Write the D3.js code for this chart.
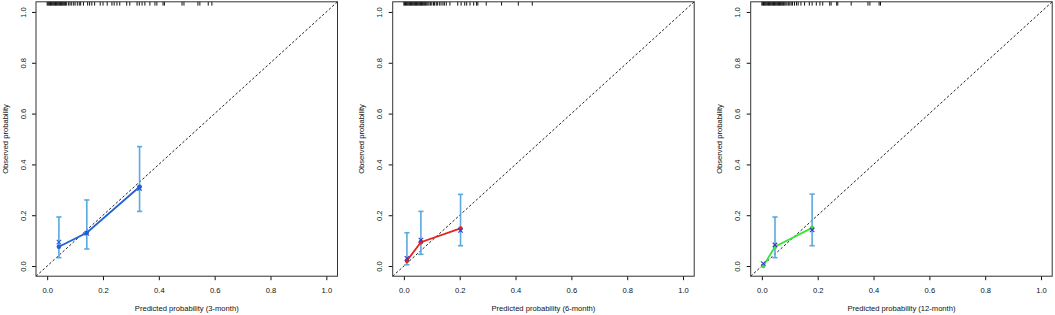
<!DOCTYPE html>
<html>
<head>
<meta charset="utf-8">
<script src="https://cdn.jsdelivr.net/npm/d3@7"></script>
<style>
  body { margin: 0; background: #fff; }
  svg { display: block; font-family: "Liberation Sans", Arial, sans-serif; }
</style>
</head>
<body>
<svg></svg>
<script>
// calibration data, one set of arrays per panel (3, 6, 12 month)
const titles = ["Predicted probability (3-month)", "Predicted probability (6-month)", "Predicted probability (12-month)"];
const lineColors = ["#1f62d6", "#e3241b", "#3ee03a"];

const pred3 = [0.042, 0.142, 0.331];
const obs3 = [0.076, 0.131, 0.312];
const corr3 = [0.094, 0.128, 0.305];
const lo3 = [0.033, 0.067, 0.215];
const hi3 = [0.193, 0.260, 0.470];

const pred6 = [0.011, 0.061, 0.203];
const obs6 = [0.021, 0.094, 0.148];
const corr6 = [0.030, 0.102, 0.140];
const lo6 = [0.005, 0.046, 0.080];
const hi6 = [0.131, 0.215, 0.282];

const pred12 = [0.005, 0.047, 0.180];
const obs12 = [0.000, 0.076, 0.150];
const corr12 = [0.010, 0.083, 0.142];
const lo12 = [null, 0.033, 0.080];
const hi12 = [null, 0.193, 0.283];

// distribution of predicted risks (rug along top)
const rug3 = [0.000, 0.003, 0.006, 0.009, 0.012, 0.015, 0.018, 0.021, 0.024, 0.027, 0.030, 0.033, 0.036, 0.039,
  0.042, 0.045, 0.048, 0.051, 0.054, 0.057, 0.060, 0.063, 0.066, 0.070, 0.077, 0.082, 0.088, 0.095, 0.100,
  0.108, 0.115, 0.120, 0.130, 0.145, 0.152, 0.160, 0.170,
  0.190, 0.200, 0.215, 0.232, 0.240, 0.250, 0.260, 0.285, 0.296, 0.322, 0.330, 0.340, 0.350, 0.368,
  0.386, 0.393, 0.415, 0.420, 0.483, 0.490, 0.540, 0.547, 0.577, 0.590];
const rug6 = [0.000, 0.003, 0.006, 0.009, 0.012, 0.015, 0.018, 0.021, 0.024, 0.027, 0.030, 0.033, 0.036, 0.039,
  0.042, 0.045, 0.048, 0.051, 0.054, 0.057, 0.060, 0.063, 0.066, 0.069, 0.072, 0.075, 0.078, 0.082, 0.086,
  0.090, 0.095, 0.100, 0.106, 0.110, 0.116, 0.120, 0.127, 0.133, 0.140, 0.145,
  0.152, 0.165, 0.193, 0.205, 0.218, 0.225, 0.237, 0.250, 0.260, 0.265, 0.295, 0.350, 0.410, 0.460];
const rug12 = [0.000, 0.003, 0.006, 0.009, 0.012, 0.015, 0.018, 0.021, 0.024, 0.027, 0.030, 0.033, 0.036, 0.039,
  0.042, 0.045, 0.048, 0.051, 0.054, 0.057, 0.060, 0.063, 0.066, 0.069, 0.072, 0.075, 0.078, 0.082, 0.086,
  0.090, 0.095, 0.100, 0.105, 0.110, 0.117, 0.124, 0.130, 0.140, 0.153,
  0.170, 0.180, 0.195, 0.208, 0.218, 0.243, 0.248, 0.268, 0.272, 0.320, 0.380, 0.387, 0.420, 0.425];

const ticks = [0, 0.2, 0.4, 0.6, 0.8, 1.0];
const tickLabels = ["0.0", "0.2", "0.4", "0.6", "0.8", "1.0"];

const panels = [
  { pred: pred3, obs: obs3, corr: corr3, lo: lo3, hi: hi3, rug: rug3 },
  { pred: pred6, obs: obs6, corr: corr6, lo: lo6, hi: hi6, rug: rug6 },
  { pred: pred12, obs: obs12, corr: corr12, lo: lo12, hi: hi12, rug: rug12 }
];

const width = 1055, height = 315;
const lefts = [36, 392.7, 750.7];
const plotW = 301.5, plotTop = 1.8, plotBottom = 276.2;
const textColor = "#111", fs = 7.6;

const svg = d3.select("svg")
    .attr("width", width)
    .attr("height", height)
    .attr("viewBox", [0, 0, width, height]);

panels.forEach((p, k) => {
  const left = lefts[k];
  const x = d3.scaleLinear().domain([-0.04, 1.04]).range([left, left + plotW]);
  const y = d3.scaleLinear().domain([-0.04, 1.04]).range([plotBottom, plotTop]);
  const g = svg.append("g");

  // x axis
  g.append("g")
      .attr("transform", `translate(0,${plotBottom})`)
      .call(d3.axisBottom(x).tickValues(ticks).tickFormat((d, i) => tickLabels[i]).tickSize(4).tickPadding(7))
      .call(a => a.select(".domain").remove())
      .call(a => a.selectAll("line").attr("stroke", textColor))
      .call(a => a.selectAll("text").attr("fill", textColor).attr("font-size", fs).attr("font-family", null));

  // y axis, labels parallel to axis
  g.append("g")
      .attr("transform", `translate(${left},0)`)
      .call(d3.axisLeft(y).tickValues(ticks).tickFormat((d, i) => tickLabels[i]).tickSize(4))
      .call(a => a.select(".domain").remove())
      .call(a => a.selectAll("line").attr("stroke", textColor))
      .call(a => a.selectAll("text")
          .attr("x", null).attr("dy", null)
          .attr("text-anchor", "middle")
          .attr("dominant-baseline", "central")
          .attr("transform", "translate(-13,0) rotate(-90)")
          .attr("fill", textColor).attr("font-size", fs).attr("font-family", null));

  // axis titles
  g.append("text")
      .attr("x", left + plotW / 2).attr("y", 308)
      .attr("text-anchor", "middle").attr("dominant-baseline", "central")
      .attr("font-size", fs).attr("fill", textColor)
      .text(titles[k]);
  g.append("text")
      .attr("transform", `translate(${left - 31},${(plotTop + plotBottom) / 2}) rotate(-90)`)
      .attr("text-anchor", "middle").attr("dominant-baseline", "central")
      .attr("font-size", fs).attr("fill", textColor)
      .text("Observed probability");

  // ideal line
  g.append("line")
      .attr("x1", x(-0.04)).attr("y1", y(-0.04))
      .attr("x2", x(1.04)).attr("y2", y(1.04))
      .attr("stroke", "#222").attr("stroke-width", 1)
      .attr("stroke-dasharray", "2.5,2");

  // rug of predicted risks
  g.selectAll(".rug").data(p.rug).join("line")
      .attr("x1", d => x(d)).attr("x2", d => x(d))
      .attr("y1", plotTop).attr("y2", plotTop + 3.8)
      .attr("stroke", "#111").attr("stroke-width", 1);

  // error bars
  const idx = d3.range(p.pred.length).filter(i => p.lo[i] != null);
  const eb = g.append("g").attr("stroke", "#5aa9df").attr("stroke-width", 1.6);
  eb.selectAll(".v").data(idx).join("line")
      .attr("x1", i => x(p.pred[i])).attr("x2", i => x(p.pred[i]))
      .attr("y1", i => y(p.lo[i])).attr("y2", i => y(p.hi[i]));
  eb.selectAll(".ct").data(idx).join("line")
      .attr("x1", i => x(p.pred[i]) - 2.6).attr("x2", i => x(p.pred[i]) + 2.6)
      .attr("y1", i => y(p.hi[i])).attr("y2", i => y(p.hi[i]));
  eb.selectAll(".cb").data(idx).join("line")
      .attr("x1", i => x(p.pred[i]) - 2.6).attr("x2", i => x(p.pred[i]) + 2.6)
      .attr("y1", i => y(p.lo[i])).attr("y2", i => y(p.lo[i]));

  // observed line + points
  const pts = p.pred.map((d, i) => [d, p.obs[i]]);
  g.append("path")
      .attr("fill", "none")
      .attr("stroke", lineColors[k])
      .attr("stroke-width", 1.8)
      .attr("d", d3.line().x(d => x(d[0])).y(d => y(d[1]))(pts));
  g.selectAll(".pt").data(pts).join("circle")
      .attr("cx", d => x(d[0])).attr("cy", d => y(d[1]))
      .attr("r", 2.3).attr("fill", lineColors[k]);

  // bias-corrected estimates (x marks)
  const xc = k === 0 ? "#2b5ad8" : "#3a3ac4";
  g.selectAll(".xm").data(p.pred.map((d, i) => [d, p.corr[i]])).join("path")
      .attr("d", d => {
        const cx = x(d[0]), cy = y(d[1]), s = 2.2;
        return `M${cx - s},${cy - s}L${cx + s},${cy + s}M${cx - s},${cy + s}L${cx + s},${cy - s}`;
      })
      .attr("stroke", xc).attr("stroke-width", 1.1).attr("fill", "none");

  // frame
  g.append("rect")
      .attr("x", left).attr("y", plotTop)
      .attr("width", plotW).attr("height", plotBottom - plotTop)
      .attr("fill", "none").attr("stroke", "#333").attr("stroke-width", 1);
});
</script>
</body>
</html>
